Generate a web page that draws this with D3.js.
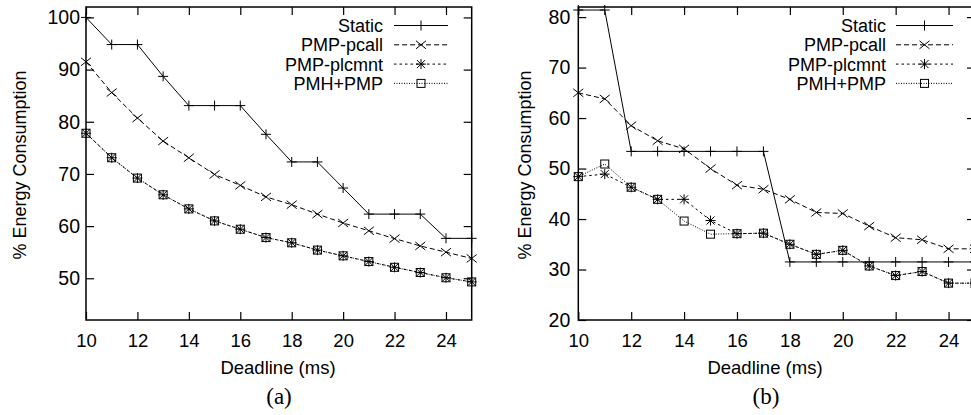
<!DOCTYPE html>
<html><head><meta charset="utf-8">
<script src="https://cdn.jsdelivr.net/npm/d3@7"></script>
<style>
body{margin:0;background:#fff}
svg{display:block}
text{font-family:"Liberation Sans",Arial,Helvetica,sans-serif;fill:#000}
</style>
</head><body>
<svg id="c" width="971" height="415"></svg>
<script>
// ---------- data ----------
const deadlines = [10,11,12,13,14,15,16,17,18,19,20,21,22,23,24,25];
const seriesNames = ["Static","PMP-pcall","PMP-plcmnt","PMH+PMP"];

// panel (a)
const staticA  = [100,94.8,94.8,88.7,83.1,83.1,83.1,77.6,72.3,72.3,67.3,62.3,62.3,62.3,57.65,57.65];
const pcallA   = [91.5,85.6,80.7,76.3,73.1,69.9,67.8,65.6,64.1,62.3,60.6,59.1,57.6,56.2,55.0,53.8];
const plcmntA  = [77.8,73.1,69.2,66.0,63.3,61.0,59.4,57.8,56.8,55.4,54.3,53.2,52.1,51.1,50.1,49.3];
const pmhA     = [77.8,73.1,69.2,66.0,63.3,61.0,59.4,57.8,56.8,55.4,54.3,53.2,52.1,51.1,50.1,49.3];

// panel (b)
const staticB  = [81.4,81.4,53.4,53.4,53.4,53.4,53.4,53.4,31.5,31.5,31.5,31.5,31.5,31.5,31.5,31.5];
const pcallB   = [65.0,63.8,58.5,55.5,53.9,50.0,46.7,45.9,43.9,41.3,41.1,38.6,36.3,35.9,34.1,34.1];
const plcmntB  = [48.4,48.9,46.3,43.9,43.9,39.7,37.1,37.2,35.0,33.0,33.8,30.7,28.8,29.6,27.3,27.3];
const pmhB     = [48.4,50.9,46.3,43.9,39.6,37.0,37.1,37.2,35.0,33.0,33.8,30.7,28.8,29.6,27.3,27.3];

const xTicks  = [10,12,14,16,18,20,22,24];
const yTicksA = [50,60,70,80,90,100];
const yTicksB = [20,30,40,50,60,70,80];
const xLabel = "Deadline (ms)";
const yLabel = "% Energy Consumption";
const panelLabels = ["(a)","(b)"];

// ---------- drawing ----------
const svg = d3.select("#c");
const styles = [
  {dash:null,      mark:"plus"},
  {dash:"5,3",     mark:"cross"},
  {dash:"2.5,3",   mark:"star"},
  {dash:"1,1.5",   mark:"box"}
];

function marker(g, type, x, y){
  const s = 5;
  let d = "";
  if(type==="plus") d = `M${x-s},${y}H${x+s}M${x},${y-s}V${y+s}`;
  else if(type==="cross") d = `M${x-s},${y-s*0.8}L${x+s},${y+s*0.8}M${x-s},${y+s*0.8}L${x+s},${y-s*0.8}`;
  else if(type==="star") d = `M${x-s},${y}H${x+s}M${x},${y-s}V${y+s}M${x-s*0.8},${y-s*0.8}L${x+s*0.8},${y+s*0.8}M${x-s*0.8},${y+s*0.8}L${x+s*0.8},${y-s*0.8}`;
  if(type==="box"){
    g.append("rect").attr("x",x-4).attr("y",y-4).attr("width",8).attr("height",8)
      .attr("fill","none").attr("stroke","#000").attr("stroke-width",1);
  } else {
    g.append("path").attr("d",d).attr("fill","none").attr("stroke","#000").attr("stroke-width",1);
  }
}

function panel(cfg){
  const x = d3.scaleLinear().domain([10,25]).range([cfg.left,cfg.right]);
  const y = d3.scaleLinear().domain(cfg.ydom).range([320,7]);
  const g = svg.append("g");

  const fs = "18px";
  const axB = g.append("g").attr("transform","translate(0,320)")
    .call(d3.axisBottom(x).tickValues(xTicks).tickSize(-8).tickPadding(14).tickFormat(d3.format("d")));
  const axT = g.append("g").attr("transform","translate(0,7)")
    .call(d3.axisTop(x).tickValues(xTicks).tickSize(-8).tickFormat(""));
  const axL = g.append("g").attr("transform",`translate(${cfg.left},0)`)
    .call(d3.axisLeft(y).tickValues(cfg.yticks).tickSize(-8).tickPadding(cfg.ypad).tickFormat(d3.format("d")));
  const axR = g.append("g").attr("transform",`translate(${cfg.right},0)`)
    .call(d3.axisRight(y).tickValues(cfg.yticks).tickSize(-8).tickFormat(""));
  [axB,axT,axL,axR].forEach(a=>{
    a.select(".domain").remove();
    a.selectAll("line").attr("stroke","#000").attr("stroke-width",1.2);
    a.selectAll("text").style("font-size",fs).style("font-family",'"Liberation Sans",Arial,sans-serif').attr("fill","#000");
  });
  axB.selectAll("text").style("font-size","18.5px");
  axL.selectAll("text").style("font-size","19.5px");

  // border
  g.append("rect").attr("x",cfg.left).attr("y",7).attr("width",cfg.right-cfg.left).attr("height",313)
    .attr("fill","none").attr("stroke","#000").attr("stroke-width",1.5);

  // series
  cfg.data.forEach((vals,i)=>{
    const st = styles[i];
    const line = d3.line().x((d,j)=>x(deadlines[j])).y(d=>y(d));
    g.append("path").datum(vals).attr("d",line).attr("fill","none")
      .attr("stroke","#000").attr("stroke-width",1)
      .attr("stroke-dasharray",st.dash);
    const mg = g.append("g");
    vals.forEach((v,j)=>marker(mg, st.mark, x(deadlines[j]), y(v)));
  });

  // legend
  const rows = [25.5,44.8,64.1,83.4];
  seriesNames.forEach((n,i)=>{
    const st = styles[i];
    const ry = rows[i];
    g.append("text").attr("x",cfg.legText).attr("y",ry+6.5).attr("text-anchor","end")
      .style("font-size",fs).text(n);
    g.append("line").attr("x1",cfg.legL).attr("x2",cfg.legR).attr("y1",ry).attr("y2",ry)
      .attr("stroke","#000").attr("stroke-width",1).attr("stroke-dasharray",st.dash);
    marker(g, st.mark, (cfg.legL+cfg.legR)/2, ry);
  });

  // axis labels
  g.append("text").attr("x",cfg.xlabX).attr("y",374).attr("text-anchor","middle")
    .style("font-size","18.5px").text(xLabel);
  g.append("text").attr("transform",`translate(${cfg.ylabX},165) rotate(-90)`).attr("text-anchor","middle")
    .style("font-size",fs).text(yLabel);
  g.append("text").attr("x",cfg.plX).attr("y",404).attr("text-anchor","middle")
    .style("font-size","23px").style("font-family",'"Liberation Serif","Times New Roman",serif').text(cfg.pl);
}

panel({left:86,right:471.7,ydom:[42,102],yticks:yTicksA,ypad:6,
  data:[staticA,pcallA,plcmntA,pmhA],legText:383,legL:394,legR:448,
  xlabX:278,ylabX:25.5,plX:279,pl:panelLabels[0]});
panel({left:578.3,right:975,ydom:[20,82],yticks:yTicksB,ypad:8,
  data:[staticB,pcallB,plcmntB,pmhB],legText:886,legL:896,legR:953,
  xlabX:765,ylabX:530.5,plX:766,pl:panelLabels[1]});
</script>
</body></html>
